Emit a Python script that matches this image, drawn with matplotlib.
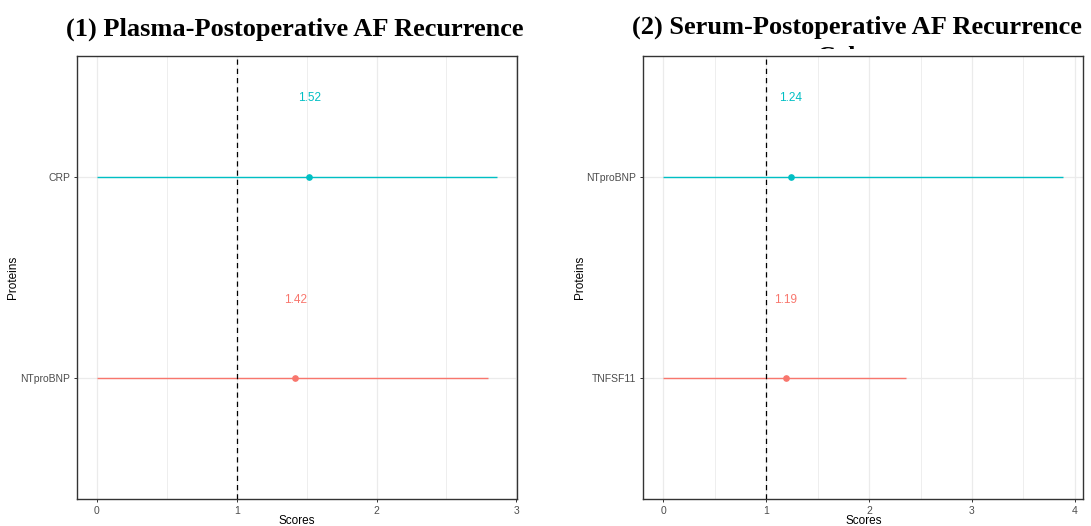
import matplotlib
matplotlib.use("Agg")
import matplotlib.pyplot as plt
from matplotlib.patches import Rectangle
from matplotlib.ticker import MultipleLocator

# ---- data ----
left_title = "(1) Plasma-Postoperative AF Recurrence"
left_proteins = ["NTproBNP", "CRP"]
left_scores = [1.42, 1.52]
left_low = [0.0, 0.0]
left_high = [2.80, 2.86]

right_title_line1 = "(2) Serum-Postoperative AF Recurrence"
right_title_line2 = "Cohort"
right_proteins = ["TNFSF11", "NTproBNP"]
right_scores = [1.19, 1.24]
right_low = [0.0, 0.0]
right_high = [2.363, 3.887]

colors = ["#F8766D", "#00BFC4"]
ref_line = 1.0

W, H = 1091, 526
fig = plt.figure(figsize=(W / 100, H / 100), dpi=100)
fig.patch.set_facecolor("white")

SANS = ["Liberation Sans", "DejaVu Sans"]
SERIF = ["Liberation Serif", "DejaVu Serif"]


def px_axes(x0, x1, y0, y1):
    return fig.add_axes([x0 / W, 1 - y1 / H, (x1 - x0) / W, (y1 - y0) / H])


def draw_panel(ax, proteins, scores, low, high):
    ax.set_zorder(2)
    ax.set_facecolor("white")
    ypos = list(range(1, len(proteins) + 1))
    for y, s, lo, hi, c in zip(ypos, scores, low, high, colors):
        ax.plot([lo, hi], [y, y], color=c, lw=1.0, zorder=3, solid_capstyle="butt")
        ax.plot([s], [y], marker="o", ms=3.8, color=c, mec=c, zorder=4)
        ax.text(s, y + 0.39, f"{s:.2f}", color=c, ha="center", va="center",
                fontsize=8.5, family=SANS, zorder=5)
    ax.axvline(ref_line, color="black", lw=0.9, ls=(0, (4.2, 3.2)), zorder=3.5)
    xmax = max(high)
    xmin = min(low)
    rng = xmax - xmin
    ax.set_xlim(xmin - 0.05 * rng, xmax + 0.05 * rng)
    ax.set_ylim(0.4, len(proteins) + 0.6)
    ax.set_yticks(ypos)
    ax.set_yticklabels(proteins)
    ax.xaxis.set_major_locator(MultipleLocator(1))
    ax.xaxis.set_minor_locator(MultipleLocator(0.5))
    ax.grid(which="major", color="#EBEBEB", lw=0.9, zorder=0)
    ax.grid(which="minor", axis="x", color="#EBEBEB", lw=0.6, zorder=0)
    ax.set_axisbelow(True)
    for sp in ax.spines.values():
        sp.set_color("#333333")
        sp.set_linewidth(1.0)
    ax.tick_params(which="major", length=2.5, width=0.7, color="#333333",
                   labelsize=7.5, labelcolor="#4D4D4D", pad=2.5)
    ax.tick_params(which="minor", length=0)
    for lab in ax.get_xticklabels() + ax.get_yticklabels():
        lab.set_family(SANS)
    ax.set_xlabel("Scores", fontsize=8.5, family=SANS, labelpad=-0.5)
    ax.set_ylabel("Proteins", fontsize=8.5, family=SANS, labelpad=0.5)


axL = px_axes(77, 516.7, 56, 499)
draw_panel(axL, left_proteins, left_scores, left_low, left_high)
axR = px_axes(643.3, 1083.3, 56, 499)
draw_panel(axR, right_proteins, right_scores, right_low, right_high)

# titles
fig.text(295 / W, 1 - 29 / H, left_title, ha="center", va="center",
         fontsize=19, fontweight="bold", family=SERIF, zorder=0.5)
fig.text(857 / W, 1 - 27 / H, right_title_line1, ha="center", va="center",
         fontsize=19, fontweight="bold", family=SERIF, zorder=0.5)
fig.text(857 / W, 1 - 57 / H, right_title_line2, ha="center", va="center",
         fontsize=19, fontweight="bold", family=SERIF, zorder=0.5)
# the wrapped second line is hidden behind the plot area, as in the original
fig.add_artist(Rectangle((560 / W, 0), (W - 560) / W, 1 - 49 / H,
                         transform=fig.transFigure, facecolor="white",
                         edgecolor="none", zorder=1))

fig.savefig("out.png", dpi=100, facecolor="white")
